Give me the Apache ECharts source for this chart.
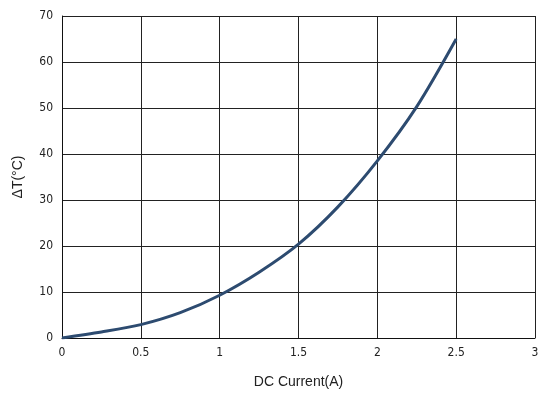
<!DOCTYPE html>
<html>
<head>
<meta charset="utf-8">
<script src="https://cdn.jsdelivr.net/npm/echarts@6/dist/echarts.min.js"></script>
<style>
  html, body { margin: 0; padding: 0; background: #fff; }
  #chart { width: 547px; height: 398px; }
</style>
</head>
<body>
<div id="chart"></div>
<script>
// current (A) and temperature rise (°C)
var current = [0, 0.25, 0.5, 0.75, 1, 1.25, 1.5, 1.75, 2, 2.25, 2.5]
var deltaT = [0, 1.3, 2.9, 5.5, 9.3, 14.3, 20.4, 28.5, 38.5, 50.3, 65]

var chart = echarts.init(document.getElementById('chart'))
var points = current.map(function (c, i) { return [c, deltaT[i]] })
var tickFont = '"DejaVu Sans Condensed", "Liberation Sans", sans-serif'

chart.setOption({
    animation: false,
    grid: { left: 62, right: 12, top: 16, bottom: 60 },
    xAxis: {
        type: 'value',
        min: 0,
        max: 3,
        interval: 0.5,
        name: 'DC Current(A)',
        nameLocation: 'middle',
        nameGap: 37,
        nameTextStyle: { fontFamily: 'Liberation Sans', fontSize: 14, color: '#222' },
        axisLine: { lineStyle: { color: '#111', width: 1 } },
        axisTick: { show: false },
        axisLabel: { margin: 9, fontFamily: tickFont, fontSize: 12, color: '#222' },
        splitLine: { show: true, lineStyle: { color: '#222', width: 1 } }
    },
    yAxis: {
        type: 'value',
        min: 0,
        max: 70,
        interval: 10,
        name: 'ΔT(°C)',
        nameLocation: 'middle',
        nameGap: 37,
        nameTextStyle: { fontFamily: 'Liberation Sans', fontSize: 14, color: '#222' },
        axisLine: { show: true, lineStyle: { color: '#111', width: 1 } },
        axisTick: { show: false },
        axisLabel: { margin: 9, fontFamily: tickFont, fontSize: 12, color: '#222' },
        splitLine: { show: true, lineStyle: { color: '#222', width: 1 } }
    },
    series: [
        {
            type: 'line',
            data: points,
            smooth: 0.3,
            showSymbol: false,
            lineStyle: { color: '#2d4b70', width: 3 }
        }
    ]
})
</script>
</body>
</html>
